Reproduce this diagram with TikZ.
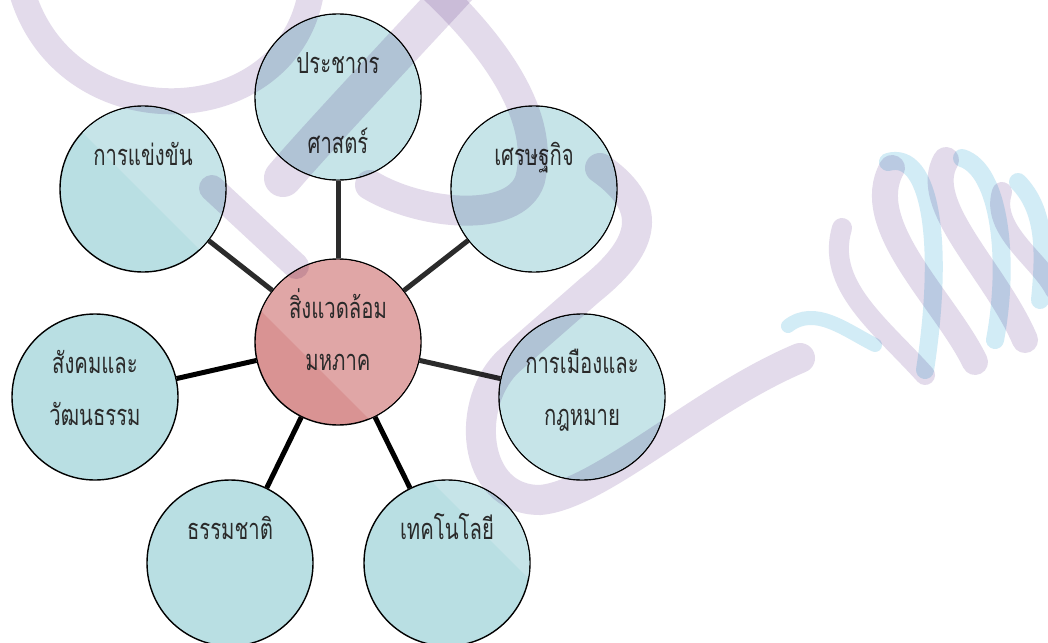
\documentclass[tikz,border=0pt]{standalone}
\usepackage{fontspec}
\newfontfamily\thaifont[Script=Thai,FakeStretch=0.7]{Loma}
\usetikzlibrary{calc}
\definecolor{tealD}{HTML}{B9DFE3}
\definecolor{tealL}{HTML}{C6E4E8}
\definecolor{rosD}{HTML}{D99393}
\definecolor{rosL}{HTML}{E0A6A6}
\definecolor{wmP}{HTML}{E3DBEB}
\definecolor{wmB}{HTML}{D2ECF6}
\definecolor{ink}{HTML}{2A2A2A}
\definecolor{lineG}{HTML}{2B2B2B}
\begin{document}
\begin{tikzpicture}[x=1pt,y=-1pt,
  bubble/.style={circle,minimum size=166pt,inner sep=0pt,draw=black,line width=1.4pt,fill=tealD},
  hub/.style={bubble,fill=rosD},
  lbl/.style={font=\thaifont\fontsize{29}{29}\selectfont,text=ink,anchor=base,inner sep=0pt},
  conn/.style={line width=5pt,draw=lineG},
  connB/.style={line width=5pt,draw=black},
  wm/.style={line width=30pt,draw=wmP,line cap=round},
  wmb/.style={line width=18pt,draw=wmB,line cap=round}]
\fill[white] (0,0) rectangle (1048,642);
\useasboundingbox (0,0) rectangle (1048,642);
% bubbles
\node[hub]    (c0) at (338,342) {};
\node[bubble] (c1) at (338,97)  {};
\node[bubble] (c2) at (534,189) {};
\node[bubble] (c3) at (582,397) {};
\node[bubble] (c4) at (447,563) {};
\node[bubble] (c5) at (230,563) {};
\node[bubble] (c6) at (95,397)  {};
\node[bubble] (c7) at (143,189) {};
% light upper-right shine
\begin{scope}
\clip (c1.center) circle[radius=82.3pt] (c2.center) circle[radius=82.3pt]
      (c3.center) circle[radius=82.3pt] (c4.center) circle[radius=82.3pt]
      (c5.center) circle[radius=82.3pt] (c6.center) circle[radius=82.3pt]
      (c7.center) circle[radius=82.3pt];
\fill[tealL] (-100,-50) -- (1100,1150) -- (1100,-50) -- cycle;
\end{scope}
\begin{scope}
\clip (c0.center) circle[radius=82.3pt];
\fill[rosL] (-100,-50) -- (1100,1150) -- (1100,-50) -- cycle;
\end{scope}
% connectors
\draw[conn]  (c0) -- (c1);
\draw[conn]  (c0) -- (c2);
\draw[conn]  (c0) -- (c3);
\draw[connB] (c0) -- (c4);
\draw[connB] (c0) -- (c5);
\draw[connB] (c0) -- (c6);
\draw[conn]  (c0) -- (c7);
% labels
\node[lbl] (t0a) at ($(c0.center)+(0,-24)$) {สิ่งแวดล้อม};
\node[lbl] (t0b) at ($(c0.center)+(0,28)$)  {มหภาค};
\node[lbl] (t1a) at ($(c1.center)+(0,-24)$) {ประชากร};
\node[lbl] (t1b) at ($(c1.center)+(0,56)$)  {ศาสตร์};
\node[lbl] (t2)  at ($(c2.center)+(0,-24)$) {เศรษฐกิจ};
\node[lbl] (t3a) at ($(c3.center)+(0,-24)$) {การเมืองและ};
\node[lbl] (t3b) at ($(c3.center)+(0,28)$)  {กฎหมาย};
\node[lbl] (t4)  at ($(c4.center)+(0,-24)$) {เทคโนโลยี};
\node[lbl] (t5)  at ($(c5.center)+(0,-24)$) {ธรรมชาติ};
\node[lbl] (t6a) at ($(c6.center)+(0,-24)$) {สังคมและ};
\node[lbl] (t6b) at ($(c6.center)+(0,28)$)  {วัฒนธรรม};
\node[lbl] (t7)  at ($(c7.center)+(0,-24)$) {การแข่งขัน};
% watermark
\begin{scope}[blend mode=multiply]
\draw[wm,line width=26pt] (20,-15) .. controls (60,145) and (295,135) .. (312,-15);
\draw[wm,line width=38pt] (460,-15) .. controls (400,50) and (320,135) .. (283,178);
\draw[wm,line width=26pt] (212,188) -- (296,266);
\draw[wm] (430,-15) .. controls (500,50) and (545,120) .. (530,180) .. controls (515,225) and (420,215) .. (370,185);
\draw[wm] (600,168) .. controls (660,210) and (640,250) .. (590,290) -- (510,360) .. controls (465,400) and (470,500) .. (540,500) .. controls (600,495) and (700,400) .. (800,358);
% globe
\draw[wmb,line width=14pt] (788,326) .. controls (815,305) and (845,330) .. (875,345);
\draw[wmb] (888,162) .. controls (930,150) and (945,240) .. (925,370);
\draw[wmb] (962,158) .. controls (1000,170) and (1010,260) .. (995,340);
\draw[wmb] (1018,182) .. controls (1045,210) and (1045,250) .. (1040,300);
\draw[wm,line width=20pt] (842,228) .. controls (825,285) and (880,325) .. (925,375);
\draw[wm,line width=26pt] (892,168) .. controls (860,225) and (945,300) .. (975,362);
\draw[wm,line width=26pt] (946,160) .. controls (920,205) and (995,270) .. (1025,340);
\draw[wm,line width=20pt] (1002,192) .. controls (990,230) and (1040,260) .. (1055,290);
\end{scope}
\end{tikzpicture}
\end{document}
